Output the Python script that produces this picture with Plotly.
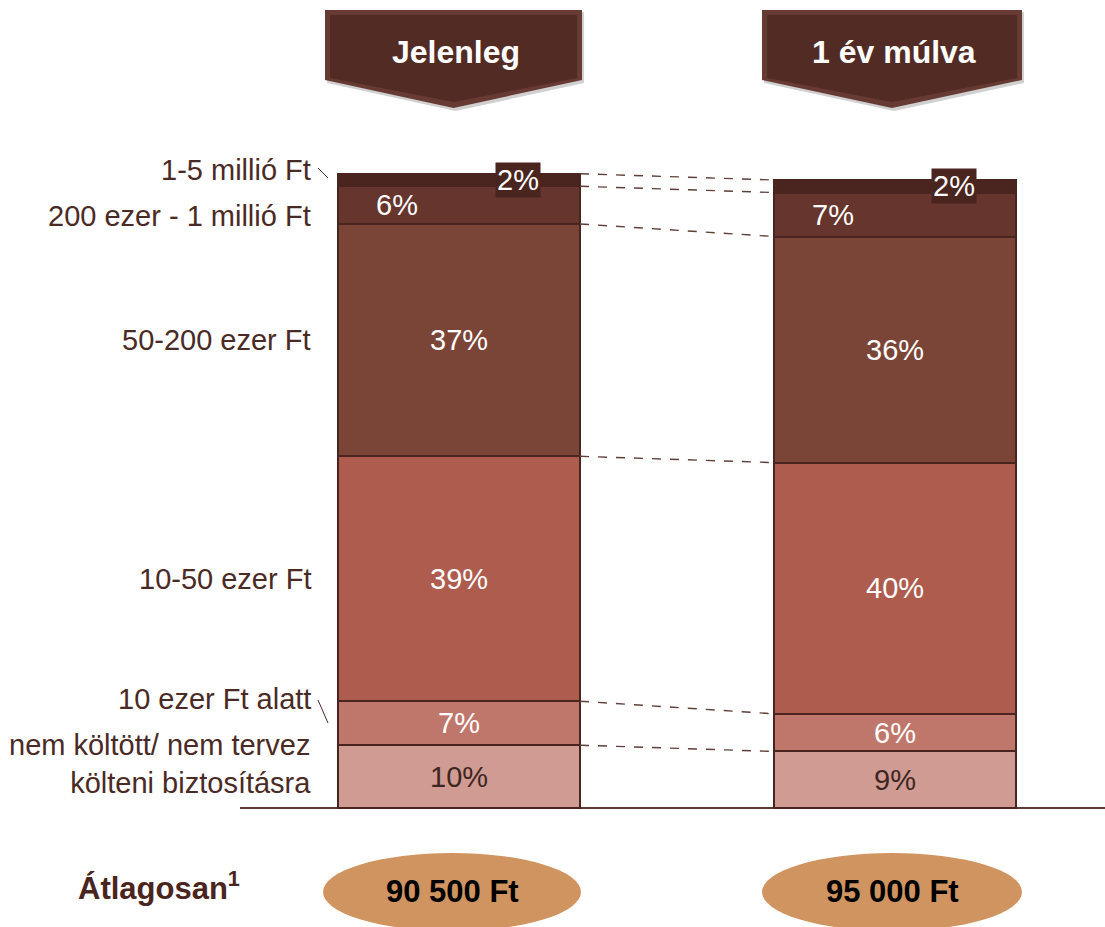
import plotly.graph_objects as go
import numpy as np

# ---------------- data ----------------
periods = ["Jelenleg", "1 év múlva"]
categories = [
    "nem költött/ nem tervez<br>költeni biztosításra",
    "10 ezer Ft alatt",
    "10-50 ezer Ft",
    "50-200 ezer Ft",
    "200 ezer - 1 millió Ft",
    "1-5 millió Ft",
]
now_vals = [10, 7, 39, 37, 6, 2]
later_vals = [9, 6, 40, 36, 7, 2]
averages = ["90 500 Ft", "95 000 Ft"]
avg_label = "Átlagosan<sup>1</sup>"

# ---------------- style ----------------
seg_colors = ["#d09b93", "#bf776b", "#ad5c4e", "#7a4437", "#66352d", "#4a2520"]
txt_colors = ["#3d2622", "white", "white", "white", "white", "white"]
edge = "#4a2520"
label_col = "#4a2a25"
FONT = "Liberation Sans, Arial, sans-serif"

W, H = 1105, 927
XC, XS = 459.0, 436.0   # px of x=0, px per x unit
YB, YS = 808.0, 6.28    # px of y=0, px per percent


def px_x(p):
    return (p - XC) / XS


def px_y(p):
    return (YB - p) / YS


bar_w = 242 / XS
xs = [0, 1]
series = [now_vals, later_vals]

fig = go.Figure()

# stacked bars
for i, cat in enumerate(categories):
    fig.add_trace(go.Bar(
        x=xs, y=[now_vals[i], later_vals[i]], width=bar_w,
        marker=dict(color=seg_colors[i], line=dict(color=edge, width=2)),
        name=cat, showlegend=False, hoverinfo="skip",
    ))

# dashed connectors between cumulative levels
cum_now = np.cumsum(now_vals)
cum_later = np.cumsum(later_vals)
for a, b in zip(cum_now, cum_later):
    fig.add_trace(go.Scatter(
        x=[bar_w / 2, 1 - bar_w / 2], y=[a, b], mode="lines",
        line=dict(color="#5e3f3a", width=1.4, dash="dash"),
        showlegend=False, hoverinfo="skip",
    ))

annotations = []
shapes = []

# value labels
x_off = [0, 0, 0, 0, -0.142, 0.135]
for j, vals in enumerate(series):
    cum = np.cumsum(vals)
    for i, v in enumerate(vals):
        center = cum[i] - v / 2
        boxed = i == len(vals) - 1
        annotations.append(dict(
            x=xs[j] + x_off[i], y=center, xref="x", yref="y",
            xanchor="center", yanchor="middle",
            text=f"{v}%", showarrow=False,
            font=dict(family=FONT, size=29, color=txt_colors[i]),
            bgcolor=seg_colors[i] if boxed else None,
            borderpad=1 if boxed else 0,
        ))

# category labels on the left
lab_shift = [13, 24, 0, 0, -11, 10]
for i, cat in enumerate(categories):
    center = cum_now[i] - now_vals[i] / 2
    annotations.append(dict(
        x=px_x(313), y=center, xref="x", yref="y", xanchor="right",
        yanchor="middle",
        yshift=lab_shift[i], text=cat, showarrow=False, align="right",
        font=dict(family=FONT, size=29, color=label_col),
    ))

# leader ticks for the small categories
for (x0, y0, x1, y1) in [(318, 168, 328, 178), (318, 700, 328, 723)]:
    shapes.append(dict(type="line", xref="x", yref="y",
                       x0=px_x(x0), y0=px_y(y0), x1=px_x(x1), y1=px_y(y1),
                       line=dict(color=label_col, width=1)))

# baseline
shapes.append(dict(type="line", xref="x", yref="y", x0=px_x(240), x1=px_x(1105),
                   y0=0, y1=0, line=dict(color="#5a3a35", width=2), layer="below"))


# header chevrons
def chevron(x0, x1, top, body_bottom, tip, inset=0):
    cx = (x0 + x1) / 2
    pts = [(x0 + inset, top + inset), (x1 - inset, top + inset),
           (x1 - inset, body_bottom - inset * 0.4), (cx, tip - inset * 1.2),
           (x0 + inset, body_bottom - inset * 0.4)]
    path = "M " + " L ".join(f"{px / W:.5f},{1 - py / H:.5f}" for px, py in pts) + " Z"
    return path


for j, (hx0, hx1) in enumerate([(325, 582), (762, 1022)]):
    shapes.append(dict(type="path", xref="paper", yref="paper",
                       path=chevron(hx0 + 2, hx1 + 2, 12, 83, 111),
                       fillcolor="rgba(120,120,120,0.35)", line=dict(width=0)))
    shapes.append(dict(type="path", xref="paper", yref="paper",
                       path=chevron(hx0, hx1, 10, 80, 108),
                       fillcolor="#673a33", line=dict(width=0)))
    shapes.append(dict(type="path", xref="paper", yref="paper",
                       path=chevron(hx0, hx1, 10, 80, 108, inset=5),
                       fillcolor="#532b25", line=dict(width=0)))
    annotations.append(dict(
        x=(hx0 + hx1) / 2 / W + 0.002, y=1 - 52 / H, xref="paper", yref="paper",
        xanchor="center", yanchor="middle",
        text=f"<b>{periods[j]}</b>", showarrow=False,
        font=dict(family=FONT, size=32, color="white"),
    ))

# average ellipses
for j, (ex0, ex1) in enumerate([(323, 581), (762, 1022)]):
    shapes.append(dict(type="circle", xref="x", yref="y",
                       x0=px_x(ex0), x1=px_x(ex1), y0=px_y(853), y1=px_y(931),
                       fillcolor="#d09461", line=dict(width=0)))
    annotations.append(dict(
        x=px_x((ex0 + ex1) / 2), y=px_y(891), xref="x", yref="y",
        xanchor="center", yanchor="middle",
        text=f"<b>{averages[j]}</b>", showarrow=False,
        font=dict(family=FONT, size=31, color="black"),
    ))

annotations.append(dict(
    x=px_x(159), y=px_y(886), xref="x", yref="y", text=f"<b>{avg_label}</b>",
    xanchor="center", yanchor="middle",
    showarrow=False, font=dict(family=FONT, size=31, color="#4a2520"),
))

fig.update_layout(
    barmode="stack", bargap=0,
    width=W, height=H, margin=dict(l=0, r=0, t=0, b=0),
    paper_bgcolor="white", plot_bgcolor="white",
    xaxis=dict(range=[px_x(0), px_x(W)], visible=False, fixedrange=True),
    yaxis=dict(range=[px_y(H), px_y(0)], visible=False, fixedrange=True),
    annotations=annotations, shapes=shapes,
)

fig.write_html("out.html")
